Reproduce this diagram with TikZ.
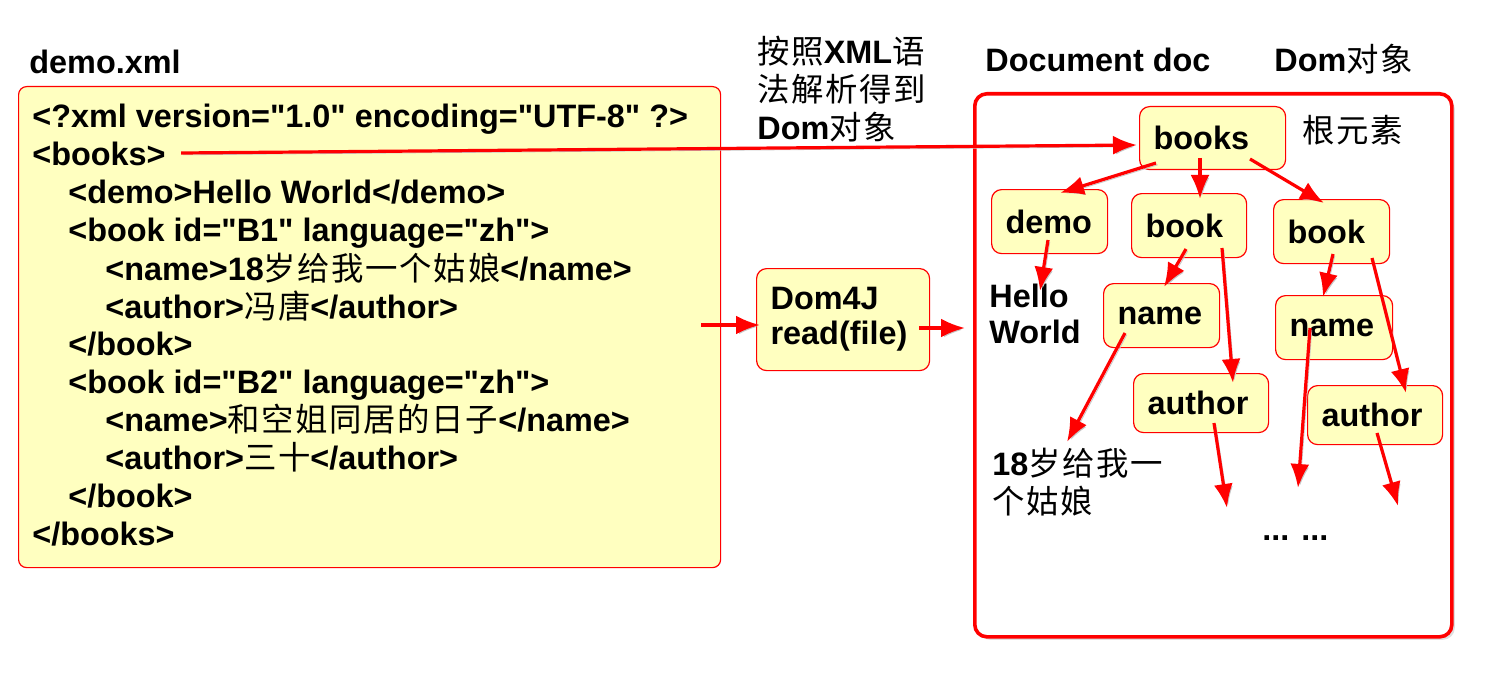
\documentclass[tikz,border=0pt]{standalone}
\usepackage{fontspec}
\setmainfont{Liberation Sans}[Ligatures=TeXOff]
\newfontfamily\cjk{Noto Sans CJK SC}[LetterSpace=5]
\newcommand\zhs[1]{{\cjk\mdseries #1}}
\usetikzlibrary{arrows.meta,calc,shadows}
\definecolor{boxyellow}{RGB}{255,255,192}
\definecolor{myred}{RGB}{255,0,0}
\tikzset{
  txt/.style={font=\bfseries\fontsize{16.2}{19}\selectfont, inner sep=0pt, anchor=base west},
  tbox/.style={draw=myred, line width=0.6pt, fill=boxyellow, rounded corners=5pt,
    font=\bfseries\fontsize{16.2}{19}\selectfont, inner xsep=7pt, inner ysep=0pt,
    align=left, anchor=north west},
  arr/.style={draw=myred, line width=1.6pt, -{Latex[length=12pt,width=9.5pt]},
    preaction={draw=black!22, transform canvas={shift={(0.9pt,-0.9pt)}}}},
}
\begin{document}
\begin{tikzpicture}[x=0.5pt,y=-0.5pt]
\useasboundingbox (0,0) rectangle (1489,674);

% boxes
\node[draw=myred, line width=0.6pt, fill=boxyellow, rounded corners=4pt, anchor=north west,
  inner sep=0pt, minimum width=351pt, minimum height=240.5pt] (xmlbox) at (18,86) {};
\node[draw=myred, line width=1.8pt, fill=white, rounded corners=6pt, anchor=north west,
  inner sep=0pt, minimum width=238.5pt, minimum height=271.5pt,
  drop shadow={opacity=0.25, shadow xshift=1.5pt, shadow yshift=-1.5pt}] (docbox) at (973,92) {};

% headings
\node[txt] (demoxml) at (29,74) {demo.xml};
\node[txt, align=left] (parse) at (757,140) {\zhs{按照}XML\zhs{语}\\\zhs{法解析得到}\\Dom\zhs{对象}};
\node[txt] (dochdr) at (985,72) {Document doc};
\node[txt] (domhdr) at (1274,72) {Dom\zhs{对象}};

% xml lines
\node[txt] (l1) at (32,128) {<?xml version="1.0" encoding="UTF-8" ?>};
\node[txt] (l2) at (32,166) {<books>};
\node[txt] (l3) at (68,204) {<demo>Hello World</demo>};
\node[txt] (l4) at (68,242) {<book id="B1" language="zh">};
\node[txt] (l5) at (105,280) {<name>18\zhs{岁给我一个姑娘}</name>};
\node[txt] (l6) at (105,318) {<author>\zhs{冯唐}</author>};
\node[txt] (l7) at (68,355) {</book>};
\node[txt] (l8) at (68,393) {<book id="B2" language="zh">};
\node[txt] (l9) at (105,431) {<name>\zhs{和空姐同居的日子}</name>};
\node[txt] (l10) at (105,469) {<author>\zhs{三十}</author>};
\node[txt] (l11) at (68,507) {</book>};
\node[txt] (l12) at (32,545) {</books>};

% Dom4J
\node[tbox, text width=72.5pt, minimum height=51pt, font=\bfseries\fontsize{16.2}{17.5}\selectfont] (dom4j) at (756,268) {Dom4J\\read(file)};

% tree
\node[tbox, text width=59pt, minimum height=31.5pt] (books) at (1139,106) {books};
\node[txt] (root) at (1302,142) {\zhs{根元素}};
\node[tbox, text width=44pt, minimum height=32pt] (demo) at (991,189) {demo};
\node[tbox, text width=43.5pt, minimum height=32pt] (book1) at (1131,193) {book};
\node[tbox, text width=44pt, minimum height=32pt] (book2) at (1273,199) {book};
\node[txt, align=left, font=\bfseries\fontsize{16.2}{18}\selectfont] (hello) at (989,343) {Hello\\World};
\node[tbox, text width=44pt, minimum height=32pt] (name1) at (1103,283) {name};
\node[tbox, text width=44.5pt, minimum height=32pt] (name2) at (1275,295) {name};
\node[tbox, text width=53.5pt, minimum height=29.5pt] (author1) at (1133,373) {author};
\node[tbox, text width=53.5pt, minimum height=29.5pt] (author2) at (1307,385) {author};
\node[txt, align=left] (girl) at (992,513) {18\zhs{岁给我一}\\\zhs{个姑娘}};
\node[txt] (dots) at (1262,540) {... ...};

% free ends
\coordinate (helloTip) at (1040,291);
\coordinate (girlTip) at (1067,442);
\coordinate (n2Tip) at (1298,488);
\coordinate (a1Tip) at (1227,508);
\coordinate (a2Tip) at (1398,506);

% connectors
\draw[arr] ($(l2.base east)+(15,-13)$) -- ($(books.north west)+(-2,39)$);
\draw[arr] ($(xmlbox.north east)+(-20,239)$) -- ($(dom4j.north west)+(4,57)$);
\draw[arr] ($(dom4j.north east)+(-11,60)$) -- ($(docbox.north west)+(-8,236)$);

\draw[arr] ($(books.north west)+(17,57)$) -- ($(demo.north west)+(69,4)$);
\draw[arr] ($(books.north west)+(61,52)$) -- ($(book1.north west)+(69,6)$);
\draw[arr] ($(books.north west)+(111,53)$) -- ($(book2.north west)+(51,4)$);
\draw[arr] ($(demo.north west)+(57,51)$) -- (helloTip);
\draw[arr] ($(book1.north west)+(55,56)$) -- ($(name1.north west)+(61,4)$);
\draw[arr] ($(book1.north west)+(91,55)$) -- ($(author1.north west)+(100,10)$);
\draw[arr] ($(book2.north west)+(60,55)$) -- ($(name2.north west)+(48,2)$);
\draw[arr] ($(book2.north west)+(99,59)$) -- ($(author2.north west)+(99,8)$);
\draw[arr] ($(name1.north west)+(22,50)$) -- (girlTip);
\draw[arr] ($(name2.north west)+(35,33)$) -- (n2Tip);
\draw[arr] ($(author1.north west)+(81,50)$) -- (a1Tip);
\draw[arr] ($(author2.north west)+(70,48)$) -- (a2Tip);
\end{tikzpicture}
\end{document}
